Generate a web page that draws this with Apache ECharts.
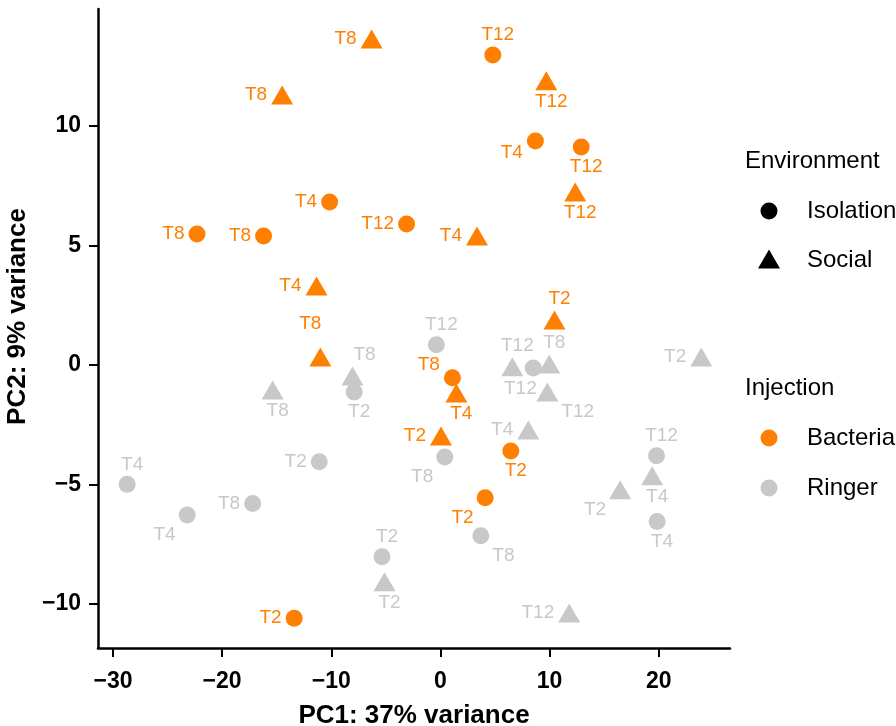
<!DOCTYPE html>
<html>
<head>
<meta charset="utf-8">
<title>PCA</title>
<script src="https://cdn.jsdelivr.net/npm/echarts@6/dist/echarts.min.js"></script>
<style>
    html, body {margin: 0; padding: 0; background: #fff;}
    #chart {width: 896px; height: 726px;}
</style>
</head>
<body>
<div id="chart"></div>
<script>
const FONT = 'Liberation Sans, Arial, Helvetica, sans-serif';
const ORANGE = '#ff7f00';
const GREY = '#c8c8c8';

// ------------------ data ------------------
// Bacteria / Isolation
const bactIsoPC1 = [4.8, 8.7, 12.9, -10.15, -3.1, -22.3, -16.2, 1.1, 6.45, 4.1, -13.4];
const bactIsoPC2 = [12.97, 9.37, 9.12, 6.82, 5.9, 5.48, 5.4, -0.54, -3.6, -5.56, -10.6];
const bactIsoTime = ['T12', 'T4', 'T12', 'T4', 'T12', 'T8', 'T8', 'T8', 'T2', 'T2', 'T2'];

// Bacteria / Social
const bactSocPC1 = [-6.3, 9.7, -14.5, 12.35, 3.35, -11.35, 10.45, -11.0, 1.46, 0.05];
const bactSocPC2 = [13.64, 11.9, 11.3, 7.24, 5.4, 3.3, 1.88, 0.33, -1.17, -2.98];
const bactSocTime = ['T8', 'T12', 'T8', 'T12', 'T4', 'T4', 'T2', 'T8', 'T4', 'T2'];

// Ringer / Isolation
const ringIsoPC1 = [-0.37, 8.5, -7.9, -11.1, 0.4, -28.7, -17.2, -23.2, -5.35, 3.7, 19.8, 19.85];
const ringIsoPC2 = [0.84, -0.13, -1.13, -4.05, -3.85, -5.0, -5.8, -6.28, -8.03, -7.15, -3.8, -6.55];
const ringIsoTime = ['T12', 'T12', 'T2', 'T2', 'T8', 'T4', 'T8', 'T4', 'T2', 'T8', 'T12', 'T4'];

// Ringer / Social
const ringSocPC1 = [-15.37, -8.05, 6.59, 9.97, 9.8, 8.05, 23.9, 19.4, 16.47, 11.8, -5.12];
const ringSocPC2 = [-1.05, -0.46, -0.08, 0.04, -1.13, -2.72, 0.33, -4.64, -5.23, -10.38, -9.08];
const ringSocTime = ['T8', 'T8', 'T12', 'T8', 'T12', 'T4', 'T2', 'T4', 'T2', 'T12', 'T2'];

const xTicks = [-30, -20, -10, 0, 10, 20];
const yTicks = [-10, -5, 0, 5, 10];

// where each text label sits next to its point (repel-like placement)
const bactIsoSide = ['T', 'LB', 'B', 'L', 'L', 'L', 'L', 'TL', 'B', 'BL', 'L'];
const bactSocSide = ['L', 'B', 'L', 'B', 'L', 'L', 'T', 'TF', 'B', 'L'];
const ringIsoSide = ['T', 'BL2', 'B', 'L', 'BL', 'T', 'L', 'BL', 'T', 'BR', 'T', 'B'];
const ringSocSide = ['B', 'TR', 'T', 'T', 'BR', 'L', 'L', 'B', 'BL', 'L', 'B'];

const SIDE = {
    L: {position: 'left', distance: 4},
    T: {position: 'top', distance: 2, offset: [5, 0]},
    TR: {position: 'top', distance: 2, offset: [12, 0]},
    B: {position: 'bottom', distance: 2, offset: [5, 0]},
    BL: {position: 'left', distance: 3, offset: [0, 20]},
    BL2: {position: 'left', distance: -12, offset: [0, 21]},
    LB: {position: 'left', distance: 4, offset: [0, 12]},
    TL: {position: 'left', distance: 4, offset: [0, -13]},
    BR: {position: 'right', distance: 3, offset: [0, 20]},
    TF: {position: 'top', distance: 2, offset: [-10, -12]}
};

function makeData(xs, ys, times, sides) {
    return xs.map(function (x, i) {
        return {
            value: [x, ys[i]],
            name: times[i],
            label: Object.assign({}, SIDE[sides[i]])
        };
    });
}

function makeSeries(name, symbol, size, color, data) {
    return {
        name: name,
        type: 'scatter',
        symbol: symbol,
        symbolSize: size,
        itemStyle: {color: color, opacity: 1},
        label: {
            show: true,
            formatter: '{b}',
            color: color,
            fontSize: 19,
            fontFamily: FONT
        },
        emphasis: {disabled: true},
        data: data
    };
}

function minus(v) {
    return String(v).replace('-', '\u2212');
}

let myChart = echarts.init(document.getElementById('chart'), null, {renderer: 'canvas'});

let option = {
    backgroundColor: '#fff',
    animation: false,
    grid: {left: 98, right: 166, top: 9, bottom: 78, outerBoundsMode: 'none', containLabel: false},
    xAxis: {
        type: 'value',
        min: -31.37,
        max: 26.53,
        name: 'PC1: 37% variance',
        nameLocation: 'middle',
        nameGap: 55,
        nameTextStyle: {fontSize: 26, fontWeight: 'bold', color: '#000', fontFamily: FONT},
        splitLine: {show: false},
        axisLine: {show: true, onZero: false, lineStyle: {color: '#000', width: 2.5}},
        axisTick: {show: true, length: 9, lineStyle: {color: '#000', width: 2}, customValues: xTicks},
        axisLabel: {
            fontSize: 23, fontWeight: 'bold', color: '#000', fontFamily: FONT, margin: 22,
            customValues: xTicks, formatter: minus
        }
    },
    yAxis: {
        type: 'value',
        min: -11.85,
        max: 14.9,
        name: 'PC2: 9% variance',
        nameLocation: 'middle',
        nameGap: 63,
        nameTextStyle: {
            fontSize: 26, fontWeight: 'bold', color: '#000', fontFamily: FONT,
            padding: [0, 0, 0, 24]
        },
        splitLine: {show: false},
        axisLine: {show: true, onZero: false, lineStyle: {color: '#000', width: 2.5}},
        axisTick: {show: true, length: 9, lineStyle: {color: '#000', width: 2}, customValues: yTicks},
        axisLabel: {
            fontSize: 23, fontWeight: 'bold', color: '#000', fontFamily: FONT, margin: 17,
            customValues: yTicks, formatter: minus
        }
    },
    series: [
        makeSeries('Ringer Isolation', 'circle', 17, GREY, makeData(ringIsoPC1, ringIsoPC2, ringIsoTime, ringIsoSide)),
        makeSeries('Ringer Social', 'triangle', [22, 19], GREY, makeData(ringSocPC1, ringSocPC2, ringSocTime, ringSocSide)),
        makeSeries('Bacteria Isolation', 'circle', 17, ORANGE, makeData(bactIsoPC1, bactIsoPC2, bactIsoTime, bactIsoSide)),
        makeSeries('Bacteria Social', 'triangle', [22, 19], ORANGE, makeData(bactSocPC1, bactSocPC2, bactSocTime, bactSocSide))
    ],
    // legends drawn by hand (two separate keys like ggplot)
    graphic: [
        {type: 'text', x: 745, y: 161, style: {text: 'Environment', fontSize: 24, fontFamily: FONT, fill: '#000', verticalAlign: 'middle'}},
        {type: 'circle', shape: {cx: 769, cy: 211, r: 8.5}, style: {fill: '#000'}},
        {type: 'text', x: 807, y: 211, style: {text: 'Isolation', fontSize: 24, fontFamily: FONT, fill: '#000', verticalAlign: 'middle'}},
        {type: 'polygon', shape: {points: [[769, 249.5], [758, 268.5], [780, 268.5]]}, style: {fill: '#000'}},
        {type: 'text', x: 807, y: 260, style: {text: 'Social', fontSize: 24, fontFamily: FONT, fill: '#000', verticalAlign: 'middle'}},
        {type: 'text', x: 745, y: 388, style: {text: 'Injection', fontSize: 24, fontFamily: FONT, fill: '#000', verticalAlign: 'middle'}},
        {type: 'circle', shape: {cx: 769, cy: 438, r: 8.5}, style: {fill: ORANGE}},
        {type: 'text', x: 807, y: 438, style: {text: 'Bacteria', fontSize: 24, fontFamily: FONT, fill: '#000', verticalAlign: 'middle'}},
        {type: 'circle', shape: {cx: 769, cy: 488, r: 8.5}, style: {fill: GREY}},
        {type: 'text', x: 807, y: 488, style: {text: 'Ringer', fontSize: 24, fontFamily: FONT, fill: '#000', verticalAlign: 'middle'}}
    ]
};

myChart.setOption(option);
</script>
</body>
</html>
